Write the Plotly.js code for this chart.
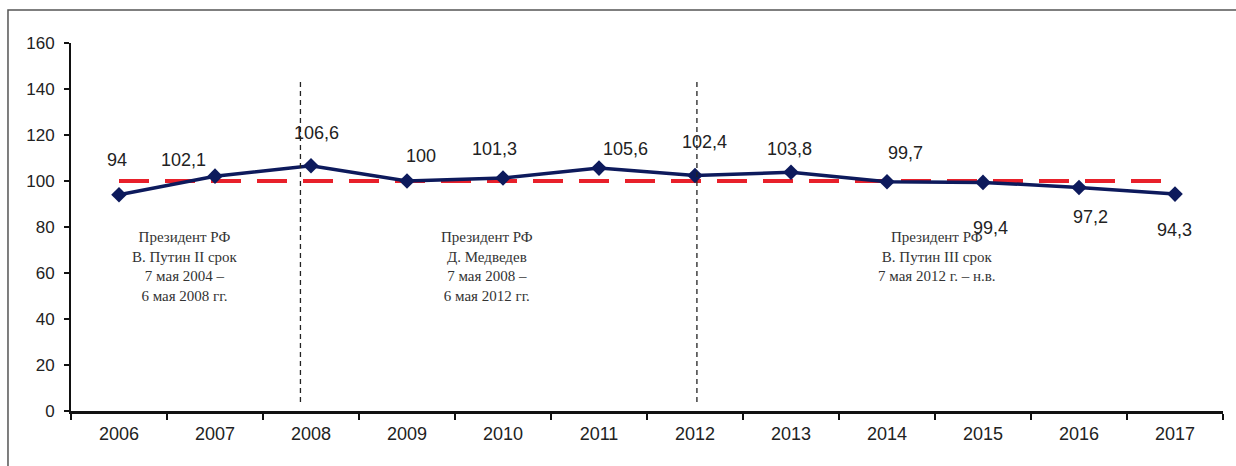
<!DOCTYPE html>
<html>
<head>
<meta charset="utf-8">
<script src="https://cdn.plot.ly/plotly-3.0.1.min.js"></script>
<style>html,body{margin:0;padding:0;background:#fff;}#chart{width:1236px;height:466px;}</style>
</head>
<body>
<div id="chart"></div>
<script>
// ---- data ----
const years = ["2006","2007","2008","2009","2010","2011","2012","2013","2014","2015","2016","2017"];
const values = [94, 102.1, 106.6, 100, 101.3, 105.6, 102.4, 103.8, 99.7, 99.4, 97.2, 94.3];
const baseline = [100,100,100,100,100,100,100,100,100,100,100,100];
const yTicks = [0,20,40,60,80,100,120,140,160];
const termNotes = [
  "Президент РФ<br>В. Путин II срок<br>7 мая 2004 –<br>6 мая 2008 гг.",
  "Президент РФ<br>Д. Медведев<br>7 мая 2008 –<br>6 мая 2012 гг.",
  "Президент РФ<br>В. Путин III срок<br>7 мая 2012 г. – н.в."
];

// ---- layout helpers (positions, not data) ----
const labelShift = [[-2,35],[-32,16],[5,33],[14,25],[-9,29],[26,19],[9,33],[-2,23],[18,29],[7,-46],[11,-30],[-1,-36]];
const notePos = [0.69, 3.83, 8.52];
const dividers = [1.89, 6.02];

const fmt = v => String(v).replace('.', ',');
const sans = 'Liberation Sans, Arial, sans-serif';

const annotations = values.map((v,i) => ({
  x: i, y: v, xref:'x', yref:'y', text: fmt(v), showarrow:false,
  xshift: labelShift[i][0], yshift: labelShift[i][1],
  font:{family:sans, size:18, color:'#222'}
}));
termNotes.forEach((t,i) => annotations.push({
  x: notePos[i], y: 80, xref:'x', yref:'y', yanchor:'top', text:t, showarrow:false,
  font:{family:'Liberation Serif, Times New Roman, serif', size:15, color:'#333'}
}));

const shapes = dividers.map(d => ({
  type:'line', xref:'x', yref:'y', x0:d, x1:d, y0:3.9, y1:144.8,
  line:{color:'#222', width:1.3, dash:'5px,4px'}
}));
shapes.push({type:'rect', xref:'paper', yref:'paper', x0:-0.0547, x1:1.02, y0:-0.2, y1:1.0897,
  line:{color:'#555', width:1.5}, layer:'below'});

const traces = [
  {x: years, y: baseline, type:'scatter', mode:'lines', hoverinfo:'skip',
   line:{color:'#e8202a', width:4, dash:'30px,16px'}},
  {x: years, y: values, type:'scatter', mode:'lines+markers',
   line:{color:'#0d1a5c', width:3.5},
   marker:{symbol:'diamond', size:12, color:'#0d1a5c'}}
];

const layout = {
  width:1236, height:466,
  margin:{l:71, r:13, t:43, b:55},
  showlegend:false,
  paper_bgcolor:'#fff', plot_bgcolor:'#fff',
  xaxis:{type:'category', range:[-0.5,11.5], showline:true, linecolor:'#111', linewidth:2.5,
    ticks:'outside', tickson:'boundaries', ticklen:6, tickwidth:2, tickcolor:'#111',
    ticklabelstandoff:5,
    showgrid:false, zeroline:false, fixedrange:true,
    tickfont:{family:sans, size:18, color:'#222'}},
  yaxis:{range:[0,160], tickvals:yTicks, showline:true, linecolor:'#111', linewidth:2,
    ticks:'outside', ticklen:5, tickwidth:2, tickcolor:'#111',
    ticklabelstandoff:6,
    showgrid:false, zeroline:false, fixedrange:true,
    tickfont:{family:sans, size:17, color:'#222'}},
  annotations, shapes
};

Plotly.newPlot('chart', traces, layout, {displayModeBar:false, staticPlot:true});
</script>
</body>
</html>
